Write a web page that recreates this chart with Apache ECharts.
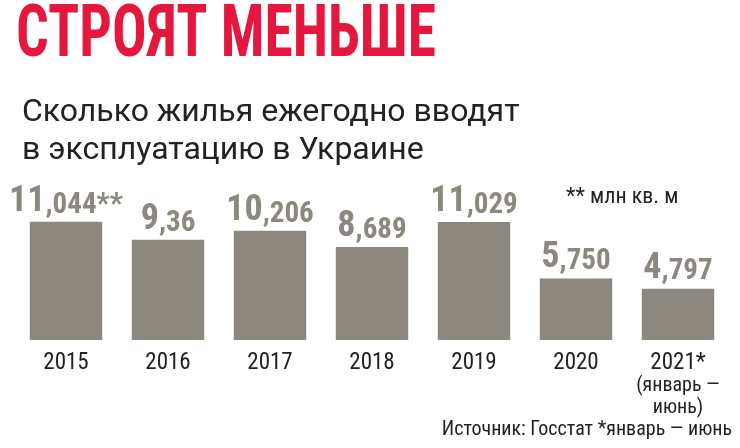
<!DOCTYPE html>
<html>
<head>
<meta charset="utf-8">
<script src="https://cdn.jsdelivr.net/npm/echarts@6/dist/echarts.min.js"></script>
<style>html,body{margin:0;background:#fff}#main{width:740px;height:448px}</style>
</head>
<body>
<div id="main"></div>
<script>
var years = ['2015', '2016', '2017', '2018', '2019', '2020', '2021*'];
var values = [11.044, 9.36, 10.206, 8.689, 11.029, 5.750, 4.797];
var valueTexts = ['11,044', '9,36', '10,206', '8,689', '11,029', '5,750', '4,797'];

var narrow = "'Liberation Sans Narrow', 'Roboto Condensed', Roboto, sans-serif";
var myChart = echarts.init(document.getElementById('main'));
var option = {
    graphic: [
        {type: 'text', x: 16, y: 2, scaleX: 0.8, style: {text: 'СТРОЯТ МЕНЬШЕ', fill: '#e5173f', font: 'bold 72px ' + narrow}},
        {type: 'text', left: 22, top: 94, style: {text: 'Сколько жилья ежегодно вводят\nв эксплуатацию в Украине', fill: '#222', font: '32px Roboto, sans-serif', lineHeight: 38}},
        {type: 'text', left: 566, top: 186, style: {text: '** млн кв. м', fill: '#222', font: '22px ' + narrow}},
        {type: 'text', right: 8, top: 420, style: {text: 'Источник: Госстат *январь — июнь', fill: '#222', font: '20px ' + narrow}}
    ],
    grid: {left: 15, right: 11, top: 100, bottom: 108},
    xAxis: {
        type: 'category',
        data: years,
        axisLine: {show: false},
        axisTick: {show: false},
        axisLabel: {
            interval: 0,
            margin: 12,
            color: '#222',
            fontFamily: narrow,
            fontSize: 23,
            lineHeight: 23,
            formatter: function (v) {
                return v === '2021*' ? v + '\n{s|(январь —}\n{s|июнь)}' : v;
            },
            rich: {s: {fontSize: 20, lineHeight: 22, color: '#222', fontFamily: narrow}}
        }
    },
    yAxis: {type: 'value', min: 0, max: 22.43, show: false, splitLine: {show: false}},
    series: [{
        type: 'bar',
        data: values,
        barCategoryGap: '29%',
        itemStyle: {color: '#8c887f'},
        label: {
            show: true,
            position: 'top',
            distance: 2,
            formatter: function (p) {
                var t = valueTexts[p.dataIndex].split(',');
                return '{b|' + t[0] + '}{d|,' + t[1] + '}' + (p.dataIndex === 0 ? '{d|**}' : '');
            },
            rich: {
                b: {fontSize: 36, fontWeight: 'bold', color: '#8c887f', fontFamily: narrow},
                d: {fontSize: 29, fontWeight: 'bold', color: '#8c887f', fontFamily: narrow, verticalAlign: 'bottom', padding: [4, 0, 0, 0]}
            }
        }
    }]
};
myChart.setOption(option);
</script>
</body>
</html>
